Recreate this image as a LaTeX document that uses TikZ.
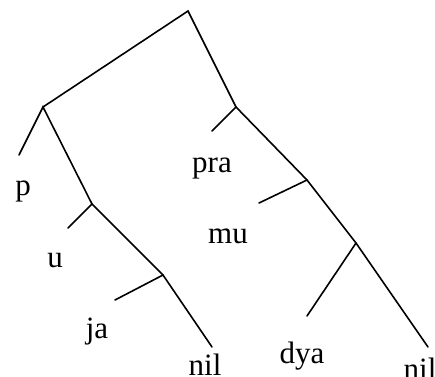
\documentclass[tikz,border=0pt]{standalone}
\usepackage{fontspec}
\setmainfont{Liberation Serif}
\begin{document}
\begin{tikzpicture}[x=1pt,y=-1pt,
  edge/.style={line width=1.6pt,line cap=round},
  lbl/.style={anchor=base,inner sep=0pt,font=\fontsize{31}{36}\selectfont}]
\useasboundingbox (0,0) rectangle (435,376);
\coordinate (root) at (188,11);
\coordinate (L1) at (43,107);
\coordinate (R1) at (236,107);
\coordinate (pe) at (19,155);
\coordinate (L2) at (92,204);
\coordinate (ue) at (68,228);
\coordinate (L3) at (163,275);
\coordinate (jae) at (115,300);
\coordinate (nile1) at (212,347);
\coordinate (prae) at (212,131);
\coordinate (R2) at (307,180);
\coordinate (mue) at (259,203);
\coordinate (R3) at (356,243);
\coordinate (dyae) at (307,316);
\coordinate (nile2) at (428,347);
\draw[edge] (L1) -- (root) -- (R1);
\draw[edge] (pe) -- (L1) -- (L2) -- (L3) -- (nile1);
\draw[edge] (ue) -- (L2);
\draw[edge] (jae) -- (L3);
\draw[edge] (prae) -- (R1) -- (R2) -- (R3) -- (nile2);
\draw[edge] (mue) -- (R2);
\draw[edge] (dyae) -- (R3);
\node[lbl] (p) at (23,195) {p};
\node[lbl] (u) at (55,267) {u};
\node[lbl] (ja) at (97,338) {ja};
\node[lbl] (nil1) at (205,375) {nil};
\node[lbl] (pra) at (212,172) {pra};
\node[lbl] (mu) at (228,243) {mu};
\node[lbl] (dya) at (302,363) {dya};
\node[lbl] (nil2) at (420,379) {nil};
\end{tikzpicture}
\end{document}
